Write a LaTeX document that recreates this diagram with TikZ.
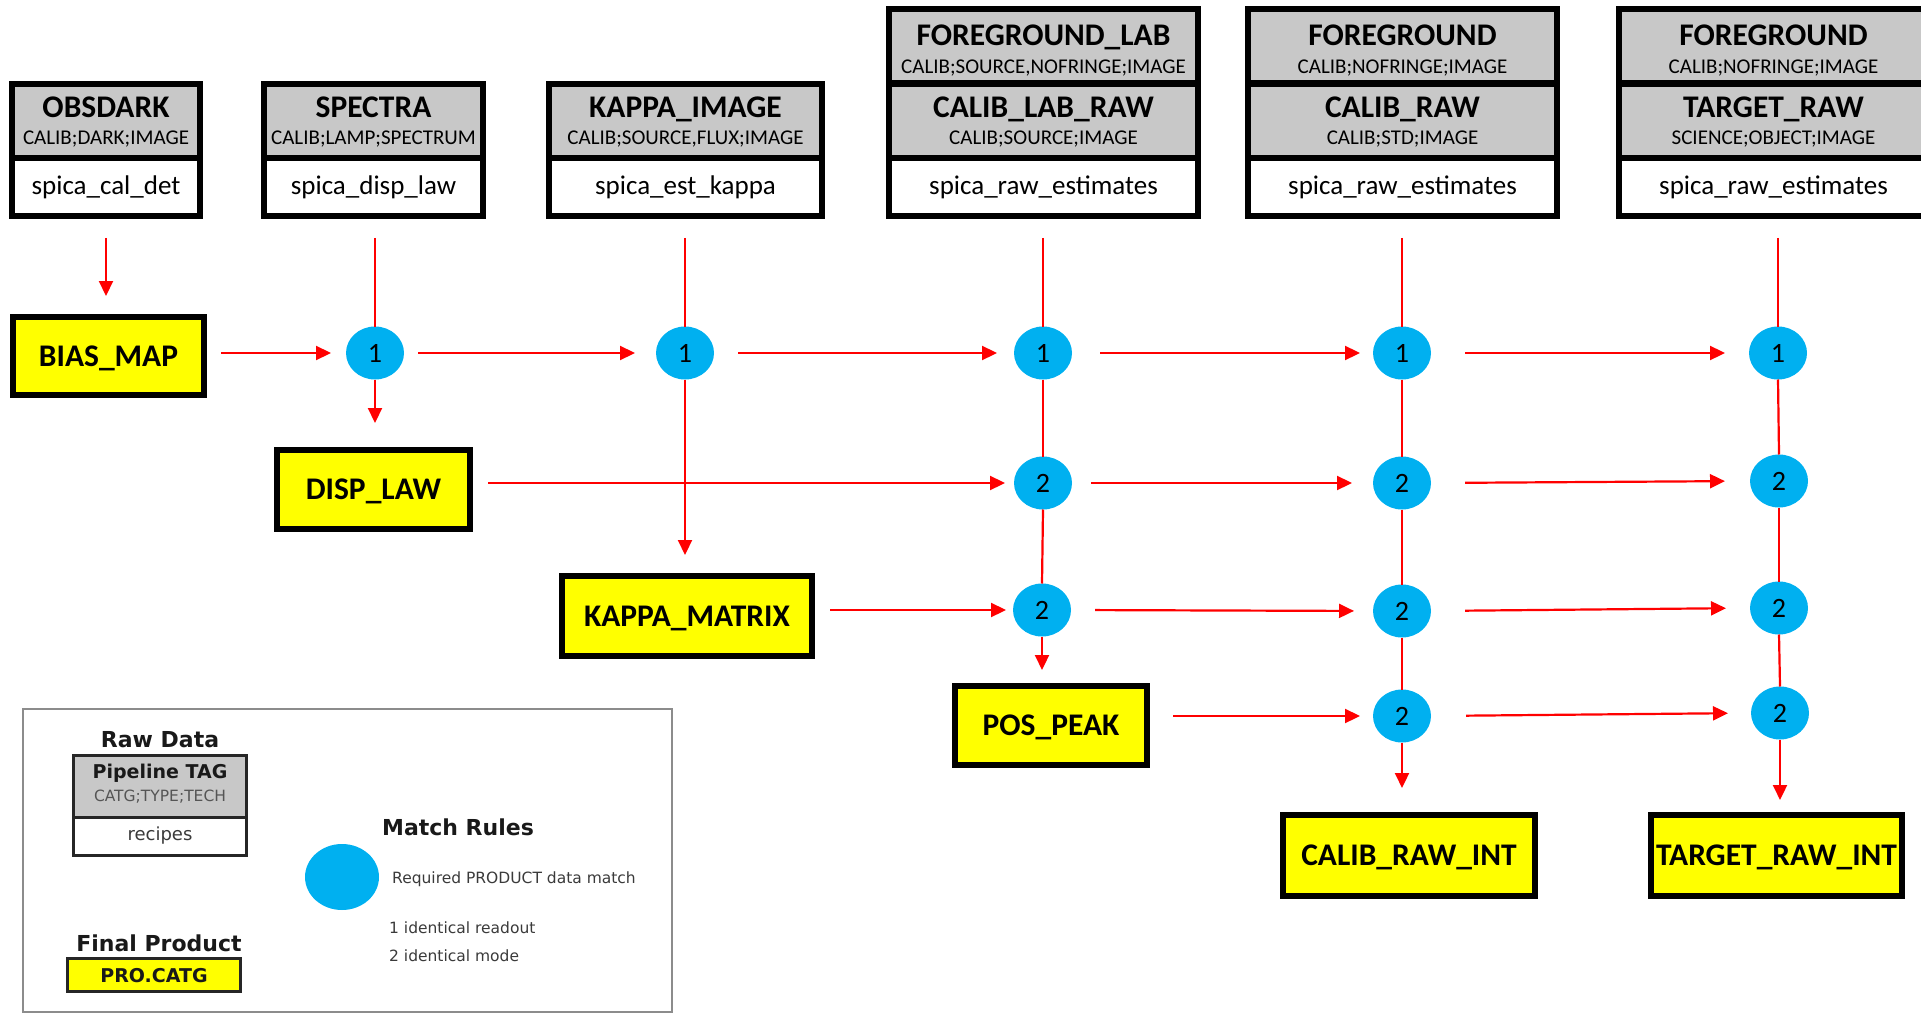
\documentclass[tikz,border=0pt]{standalone}
\usepackage{fontspec}
\setmainfont{Carlito}
\newfontfamily\djv{DejaVu Sans}
\usetikzlibrary{arrows.meta,shapes.geometric}
\definecolor{hdrgray}{HTML}{C8C8C8}
\definecolor{prodyel}{HTML}{FFFF00}
\definecolor{matchblue}{HTML}{00B0F0}
\definecolor{arrred}{HTML}{FF0000}
\definecolor{legframe}{HTML}{8C8C8C}
\definecolor{legtext}{HTML}{3A3A3A}
\definecolor{legsub}{HTML}{555555}
\begin{document}
\begin{tikzpicture}[x=1pt,y=-1pt,
  box/.style={draw=black, line width=6pt, rectangle, inner sep=0pt, outer sep=3pt},
  hdr/.style={box, fill=hdrgray, minimum height=74pt},
  rcp/.style={box, fill=white, minimum height=58pt},
  ttl/.style={font=\fontsize{31.5}{36}\selectfont\bfseries, anchor=base, inner sep=0pt},
  sub/.style={font=\fontsize{21}{24}\selectfont, anchor=base, inner sep=0pt},
  rtx/.style={font=\fontsize{27}{30}\selectfont, anchor=base, inner sep=0pt},
  prod/.style={draw=black, line width=6pt, fill=prodyel, inner sep=0pt, outer sep=3pt,
    font=\fontsize{31.5}{36}\selectfont\bfseries, text height=20pt, text depth=0pt},
  match/.style={ellipse, fill=matchblue, minimum width=58pt, minimum height=53pt,
    inner sep=0pt, outer sep=0pt, font=\fontsize{28}{32}\selectfont},
  ln/.style={draw=arrred, line width=2.2pt},
  arr/.style={ln, -{Triangle[length=15pt,width=14pt]}},
  lgbold/.style={font=\djv\bfseries\fontsize{22}{26}\selectfont, anchor=base, inner sep=0pt, text=black!90},
  lgtxt/.style={font=\djv\fontsize{15.5}{18}\selectfont, anchor=base west, inner sep=0pt, text=legtext},
  lgbox/.style={draw=black!85, line width=3pt, inner sep=0pt, outer sep=0pt, minimum width=173pt},
]
\useasboundingbox (0,0) rectangle (1921,1016);

% ---------------- top boxes ----------------
% OBSDARK
\node[hdr, minimum width=188pt] (obsh) at (106,121) {};
\node[rcp, minimum width=188pt] (obsr) at (106,187) {};
\node[ttl] (obst) at (106,118) {OBSDARK};
\node[sub] (obss) at (106,145) {CALIB;DARK;IMAGE};
\node[rtx] (obsx) at (106,195) {spica\_cal\_det};
% SPECTRA
\node[hdr, minimum width=219pt] (speh) at (373.5,121) {};
\node[rcp, minimum width=219pt] (sper) at (373.5,187) {};
\node[ttl] (spet) at (373.5,118) {SPECTRA};
\node[sub] (spes) at (373.5,145) {CALIB;LAMP;SPECTRUM};
\node[rtx] (spex) at (373.5,195) {spica\_disp\_law};
% KAPPA_IMAGE
\node[hdr, minimum width=273pt] (kaph) at (685.5,121) {};
\node[rcp, minimum width=273pt] (kapr) at (685.5,187) {};
\node[ttl] (kapt) at (685.5,118) {KAPPA\_IMAGE};
\node[sub] (kaps) at (685.5,145) {CALIB;SOURCE,FLUX;IMAGE};
\node[rtx] (kapx) at (685.5,195) {spica\_est\_kappa};
% FOREGROUND_LAB / CALIB_LAB_RAW
\node[hdr, minimum width=309pt] (fglt) at (1043.5,46) {};
\node[hdr, minimum width=309pt] (fglh) at (1043.5,121) {};
\node[rcp, minimum width=309pt] (fglr) at (1043.5,187) {};
\node[ttl] (fglta) at (1043.5,46) {FOREGROUND\_LAB};
\node[sub] (fglsa) at (1043.5,74) {CALIB;SOURCE,NOFRINGE;IMAGE};
\node[ttl] (fgltb) at (1043.5,118) {CALIB\_LAB\_RAW};
\node[sub] (fglsb) at (1043.5,145) {CALIB;SOURCE;IMAGE};
\node[rtx] (fglx) at (1043.5,195) {spica\_raw\_estimates};
% FOREGROUND / CALIB_RAW
\node[hdr, minimum width=309pt] (calt) at (1402.5,46) {};
\node[hdr, minimum width=309pt] (calh) at (1402.5,121) {};
\node[rcp, minimum width=309pt] (calr) at (1402.5,187) {};
\node[ttl] (calta) at (1402.5,46) {FOREGROUND};
\node[sub] (calsa) at (1402.5,74) {CALIB;NOFRINGE;IMAGE};
\node[ttl] (caltb) at (1402.5,118) {CALIB\_RAW};
\node[sub] (calsb) at (1402.5,145) {CALIB;STD;IMAGE};
\node[rtx] (calx) at (1402.5,195) {spica\_raw\_estimates};
% FOREGROUND / TARGET_RAW
\node[hdr, minimum width=309pt] (tgtt) at (1773.5,46) {};
\node[hdr, minimum width=309pt] (tgth) at (1773.5,121) {};
\node[rcp, minimum width=309pt] (tgtr) at (1773.5,187) {};
\node[ttl] (tgtta) at (1773.5,46) {FOREGROUND};
\node[sub] (tgtsa) at (1773.5,74) {CALIB;NOFRINGE;IMAGE};
\node[ttl] (tgttb) at (1773.5,118) {TARGET\_RAW};
\node[sub] (tgtsb) at (1773.5,145) {SCIENCE;OBJECT;IMAGE};
\node[rtx] (tgtx) at (1773.5,195) {spica\_raw\_estimates};

% ---------------- products ----------------
\node[prod, minimum width=191pt, minimum height=78pt] (bias) at (108.5,356) {BIAS\_MAP};
\node[prod, minimum width=193pt, minimum height=79pt] (disp) at (373.5,489.5) {DISP\_LAW};
\node[prod, minimum width=250pt, minimum height=80pt] (kapm) at (687,616) {KAPPA\_MATRIX};
\node[prod, minimum width=192pt, minimum height=79pt] (pos) at (1051,725.5) {POS\_PEAK};
\node[prod, minimum width=252pt, minimum height=81pt] (cri) at (1409,855.5) {CALIB\_RAW\_INT};
\node[prod, minimum width=251pt, minimum height=81pt] (tri) at (1776.5,855.5) {TARGET\_RAW\_INT};

% ---------------- match circles ----------------
\node[match] (c21) at (375,353) {1};
\node[match] (c31) at (685,353) {1};
\node[match] (c41) at (1043,353) {1};
\node[match] (c51) at (1402,353) {1};
\node[match] (c61) at (1778,353) {1};
\node[match] (c42) at (1043,483) {2};
\node[match] (c52) at (1402,483) {2};
\node[match] (c62) at (1779,481) {2};
\node[match] (c43) at (1042,610) {2};
\node[match] (c53) at (1402,611) {2};
\node[match] (c63) at (1779,608) {2};
\node[match] (c54) at (1402,716) {2};
\node[match] (c64) at (1780,713) {2};

% ---------------- connectors ----------------
% column 1
\draw[arr, shorten <=19pt, shorten >=18pt] (obsr.south) -- (obsr.south |- bias.north);
% column 2
\draw[ln, shorten <=19pt] (c21.north |- sper.south) -- (c21.north);
\draw[arr, shorten >=24pt] (c21.south) -- (c21.south |- disp.north);
% column 3
\draw[ln, shorten <=19pt] (c31.north |- kapr.south) -- (c31.north);
\draw[arr, shorten >=18pt] (c31.south) -- (c31.south |- kapm.north);
% column 4
\draw[ln, shorten <=19pt] (c41.north |- fglr.south) -- (c41.north);
\draw[ln] (c41.south) -- (c42.north);
\draw[ln] (c42.south) -- (c43.north);
\draw[arr, shorten >=13pt] (c43.south) -- (c43.south |- pos.north);
% column 5
\draw[ln, shorten <=19pt] (c51.north |- calr.south) -- (c51.north);
\draw[ln] (c51.south) -- (c52.north);
\draw[ln] (c52.south) -- (c53.north);
\draw[ln] (c53.south) -- (c54.north);
\draw[arr, shorten >=24pt] (c54.south) -- (c54.south |- cri.north);
% column 6
\draw[ln, shorten <=19pt] (c61.north |- tgtr.south) -- (c61.north);
\draw[ln] (c61.south) -- (c62.north);
\draw[ln] (c62.south) -- (c63.north);
\draw[ln] (c63.south) -- (c64.north);
\draw[arr, shorten >=12pt] (c64.south) -- (c64.south |- tri.north);
% row 1
\draw[arr, shorten <=14pt, shorten >=15pt] (bias.east |- c21.west) -- (c21.west);
\draw[arr, shorten <=14pt, shorten >=21pt] (c21.east) -- (c31.west);
\draw[arr, shorten <=24pt, shorten >=17pt] (c31.east) -- (c41.west);
\draw[arr, shorten <=28pt, shorten >=13pt] (c41.east) -- (c51.west);
\draw[arr, shorten <=34pt, shorten >=24pt] (c51.east) -- (c61.west);
% row 2
\draw[arr, shorten <=15pt, shorten >=9pt] (disp.east |- c42.west) -- (c42.west);
\draw[arr, shorten <=19pt, shorten >=21pt] (c42.east) -- (c52.west);
\draw[arr, shorten <=34pt, shorten >=25pt] (c52.east) -- (c62.west);
% row 3
\draw[arr, shorten <=15pt, shorten >=7pt] (kapm.east |- c43.west) -- (c43.west);
\draw[arr, shorten <=24pt, shorten >=19pt] (c43.east) -- (c53.west);
\draw[arr, shorten <=34pt, shorten >=24pt] (c53.east) -- (c63.west);
% row 4
\draw[arr, shorten <=23pt, shorten >=13pt] (pos.east |- c54.west) -- (c54.west);
\draw[arr, shorten <=35pt, shorten >=23pt] (c54.east) -- (c64.west);

% ---------------- legend ----------------
\node[draw=legframe, line width=2pt, minimum width=649pt, minimum height=303pt, inner sep=0pt] (leg) at (347.5,860.5) {};
\node[lgbold] (lraw) at (160,747) {Raw Data};
\node[lgbox, fill=hdrgray, minimum height=61.5pt] (lph) at (160,786.25) {};
\node[lgbox, fill=white, minimum height=38.5pt] (lpr) at (160,836.25) {};
\node[font=\djv\bfseries\fontsize{19}{22}\selectfont, anchor=base, inner sep=0pt, text=black!90] (lptag) at (160,778) {Pipeline TAG};
\node[font=\djv\fontsize{15.5}{18}\selectfont, anchor=base, inner sep=0pt, text=legsub] (lpcat) at (160,801) {CATG;TYPE;TECH};
\node[font=\djv\fontsize{18}{21}\selectfont, anchor=base, inner sep=0pt, text=legtext] (lprec) at (160,840) {recipes};
\node[lgbold] (lfin) at (159,951) {Final Product};
\node[lgbox, fill=prodyel, minimum height=33pt, font=\djv\bfseries\fontsize{19}{22}\selectfont, text height=14pt, text depth=0pt, text=black!90] (lpro) at (154,975) {PRO.CATG};
\node[lgbold] (lmr) at (458,835) {Match Rules};
\node[ellipse, fill=matchblue, minimum width=74pt, minimum height=66pt, inner sep=0pt] (lcirc) at (342,877) {};
\node[lgtxt] (lreq) at (392,883) {Required PRODUCT data match};
\node[lgtxt] (lone) at (389,933) {1 identical readout};
\node[lgtxt] (ltwo) at (389,961) {2 identical mode};
\end{tikzpicture}
\end{document}
